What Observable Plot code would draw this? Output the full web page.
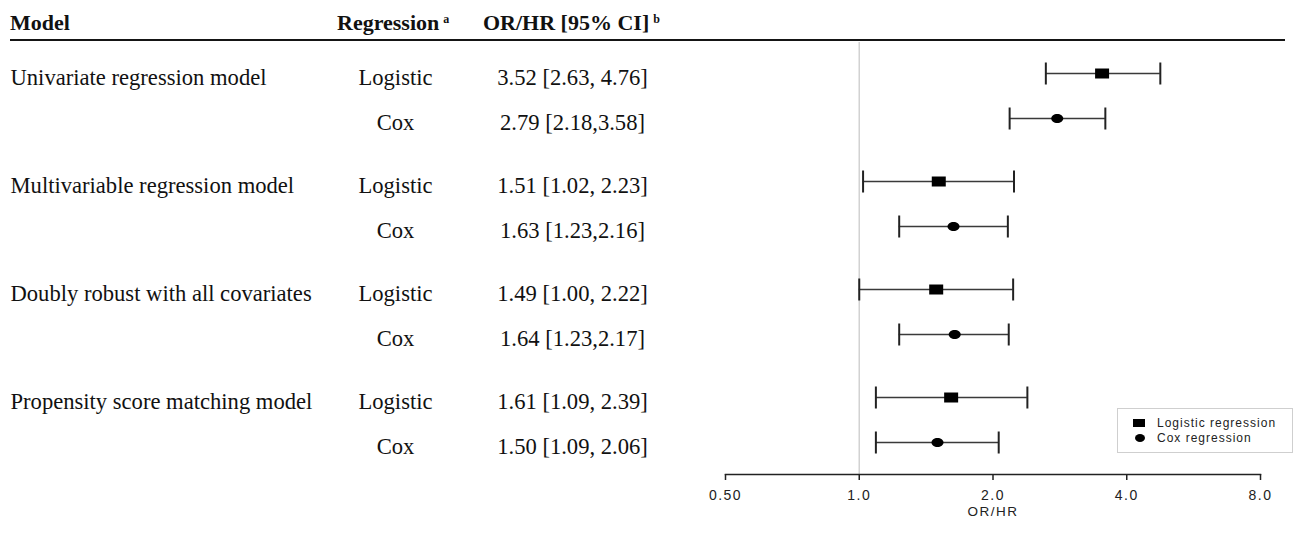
<!DOCTYPE html>
<html>
<head>
<meta charset="utf-8">
<script src="https://cdn.jsdelivr.net/npm/d3@7"></script>
<script src="https://cdn.jsdelivr.net/npm/@observablehq/plot@0.6"></script>
<style>
  html, body { margin: 0; padding: 0; background: #fff; }
  #wrap { position: relative; width: 1296px; height: 533px; overflow: hidden; }
  #chart { position: absolute; left: 0; top: 0; }
  .hdr { position: absolute; top: 12px; font-family: "Liberation Serif", "Times New Roman", serif; font-weight: bold; font-size: 22px; line-height: 22px; color: #111; white-space: nowrap; }
  .hdr sup { font-size: 12px; vertical-align: 7px; line-height: 0; margin-left: 4px; }
  #hline { position: absolute; left: 10px; top: 39px; width: 1275px; height: 0; border-top: 2.5px solid #151515; }
  #legend { position: absolute; left: 1117px; top: 408px; width: 174px; height: 43px; border: 1px solid #cfcfcf; background: #fff; font-family: "Liberation Sans", Arial, sans-serif; font-size: 12px; letter-spacing: 1px; color: #222; }
  #legend .sw { position: absolute; background: #000; }
  #legend .lab { position: absolute; left: 39px; line-height: 14px; white-space: nowrap; }
  g[aria-label="x-axis tick label"] text { letter-spacing: 1.5px; }
  .axlab text { letter-spacing: 1.5px; }
</style>
</head>
<body>
<div id="wrap">
  <div id="chart"></div>
  <div class="hdr" style="left:10px">Model</div>
  <div class="hdr" style="left:337px">Regression<sup>a</sup></div>
  <div class="hdr" style="left:483px">OR/HR [95% CI]<sup>b</sup></div>
  <div id="hline"></div>
  <div id="legend">
    <div class="sw" style="left:15px; top:10px; width:12px; height:8px;"></div>
    <div class="lab" style="top:7px;">Logistic regression</div>
    <div class="sw" style="left:17px; top:25px; width:10px; height:8px; border-radius:50%;"></div>
    <div class="lab" style="top:22px;">Cox regression</div>
  </div>
</div>
<script>
// ---- data ----
const models = [
  "Univariate regression model",
  "Multivariable regression model",
  "Doubly robust with all covariates",
  "Propensity score matching model"
];
const regressions = ["Logistic", "Cox"];
const estimates = [3.52, 2.79, 1.51, 1.63, 1.49, 1.64, 1.61, 1.50];
const lower     = [2.63, 2.18, 1.02, 1.23, 1.00, 1.23, 1.09, 1.09];
const upper     = [4.76, 3.58, 2.23, 2.16, 2.22, 2.17, 2.39, 2.06];
const ciLabels = [
  "3.52 [2.63, 4.76]", "2.79 [2.18,3.58]",
  "1.51 [1.02, 2.23]", "1.63 [1.23,2.16]",
  "1.49 [1.00, 2.22]", "1.64 [1.23,2.17]",
  "1.61 [1.09, 2.39]", "1.50 [1.09, 2.06]"
];
const xTicks = [0.5, 1, 2, 4, 8];
const xTickLabels = ["0.50", "1.0", "2.0", "4.0", "8.0"];
const axisLabel = "OR/HR";

// ---- layout (row positions: groups separated by a gap) ----
const GROUP_STEP = 2.4;
const rows = estimates.map((est, i) => ({
  model: models[Math.floor(i / 2)],
  reg: regressions[i % 2],
  est, lo: lower[i], hi: upper[i], ci: ciLabels[i],
  pos: Math.floor(i / 2) * GROUP_STEP + (i % 2)
}));
const logisticRows = rows.filter(d => d.reg === "Logistic");
const coxRows = rows.filter(d => d.reg === "Cox");

const capSymbol = { draw(ctx) { ctx.moveTo(0, -11); ctx.lineTo(0, 11); } };
const squareSymbol = { draw(ctx) { ctx.rect(-7, -5, 14, 10); } };
const ellipseSymbol = { draw(ctx) {
  const rx = 6, ry = 4.5, k = 0.5523;
  ctx.moveTo(rx, 0);
  ctx.bezierCurveTo(rx, ry * k, rx * k, ry, 0, ry);
  ctx.bezierCurveTo(-rx * k, ry, -rx, ry * k, -rx, 0);
  ctx.bezierCurveTo(-rx, -ry * k, -rx * k, -ry, 0, -ry);
  ctx.bezierCurveTo(rx * k, -ry, rx, -ry * k, rx, 0);
  ctx.closePath();
} };

const W = 1296, H = 533;
const mL = 725, mR = 36, mT = 42, mB = 59;
const serif = '"Liberation Serif", "Times New Roman", serif';
const rowFont = 22.6, rowDy = 4.5;

const chart = Plot.plot({
  width: W, height: H,
  marginLeft: mL, marginRight: mR, marginTop: mT, marginBottom: mB,
  style: { fontFamily: '"Liberation Sans", Arial, sans-serif', fontSize: "14px", color: "#222", background: "transparent", overflow: "visible" },
  x: { type: "log", base: 2, domain: [0.5, 8] },
  y: { domain: [8.911, -0.689], axis: null },
  marks: [
    Plot.ruleX([1], { stroke: "#d2d2d2", strokeWidth: 1.5 }),
    Plot.ruleY(rows, { y: "pos", x1: "lo", x2: "hi", stroke: "#3a3a3a", strokeWidth: 1.4 }),
    Plot.dot(rows, { x: "lo", y: "pos", symbol: capSymbol, fill: "none", stroke: "#222", strokeWidth: 2 }),
    Plot.dot(rows, { x: "hi", y: "pos", symbol: capSymbol, fill: "none", stroke: "#222", strokeWidth: 2 }),
    Plot.dot(logisticRows, { x: "est", y: "pos", symbol: squareSymbol, fill: "#000", stroke: "none" }),
    Plot.dot(coxRows, { x: "est", y: "pos", symbol: ellipseSymbol, fill: "#000", stroke: "none" }),
    // table columns
    Plot.text(logisticRows, { y: "pos", text: "model", frameAnchor: "left", textAnchor: "start", dx: 10 - mL, dy: rowDy, fontSize: rowFont, fontFamily: serif, fill: "#111" }),
    Plot.text(rows, { y: "pos", text: "reg", frameAnchor: "left", textAnchor: "middle", dx: 395 - mL, dy: rowDy, fontSize: rowFont, fontFamily: serif, fill: "#111" }),
    Plot.text(rows, { y: "pos", text: "ci", frameAnchor: "left", textAnchor: "middle", dx: 572 - mL, dy: rowDy, fontSize: rowFont, fontFamily: serif, fill: "#111" }),
    // axis
    Plot.frame({ anchor: "bottom", stroke: "#222", strokeWidth: 1.5 }),
    Plot.axisX({ ticks: xTicks, tickFormat: d => xTickLabels[xTicks.indexOf(d)], tickSize: 6, tickPadding: 10, stroke: "#222", strokeWidth: 1.5, fontSize: 14, fill: "#222", label: null }),
    Plot.text([axisLabel], { frameAnchor: "bottom", dy: 41, fontSize: 13.5, fill: "#222", text: d => d, className: "axlab" })
  ]
});
document.getElementById("chart").appendChild(chart);
</script>
</body>
</html>
